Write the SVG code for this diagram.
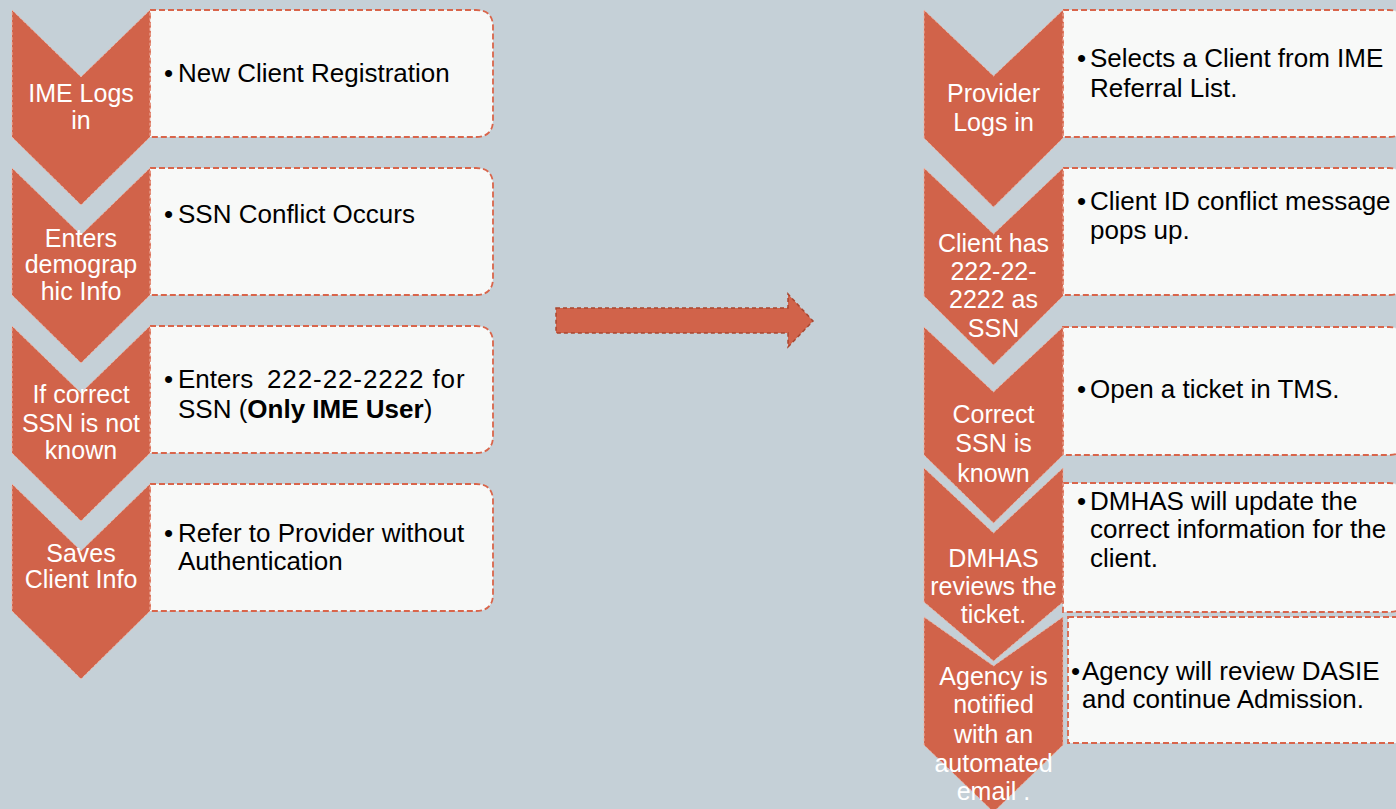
<svg xmlns="http://www.w3.org/2000/svg" width="1396" height="809" viewBox="0 0 1396 809">
<style>
.bg{fill:#C5D0D7}
.box{fill:#F8F9F8;stroke:#D9654B;stroke-width:1.8;stroke-dasharray:6 3}
.chev{fill:#D1634A;stroke:#EFB3A3;stroke-width:1;stroke-dasharray:3 2}
.ct{font-family:"Liberation Sans",Arial,sans-serif;font-size:25px;fill:#FFFFFF;text-anchor:middle}
.bt{font-family:"Liberation Sans",Arial,sans-serif;font-size:26px;fill:#000000}
.arrow{fill:#D1634A;stroke:#A9462F;stroke-width:1.5;stroke-dasharray:4 3}
</style>
<rect class="bg" x="0" y="0" width="1396" height="809"/>

<!-- Left column -->
<g id="left-step1">
<path class="box" d="M150 10 H476 Q493 10 493 27 V120 Q493 137 476 137 H150 Z"/>
<polygon class="chev" points="12,10 81,77 150,10 150,137 81,205 12,137"/>
<text class="ct"><tspan x="81" y="102">IME Logs</tspan><tspan x="81" y="129">in</tspan></text>
<text class="bt"><tspan x="164" y="82">•</tspan><tspan x="178" y="82">New Client Registration</tspan></text>
</g>
<g id="left-step2">
<path class="box" d="M150 168 H476 Q493 168 493 185 V278 Q493 295 476 295 H150 Z"/>
<polygon class="chev" points="12,168 81,235 150,168 150,295 81,363 12,295"/>
<text class="ct"><tspan x="81" y="247">Enters</tspan><tspan x="81" y="273">demograp</tspan><tspan x="81" y="300">hic Info</tspan></text>
<text class="bt"><tspan x="164" y="223">•</tspan><tspan x="178" y="223">SSN Conflict Occurs</tspan></text>
</g>
<g id="left-step3">
<path class="box" d="M150 326 H476 Q493 326 493 343 V436 Q493 453 476 453 H150 Z"/>
<polygon class="chev" points="12,326 81,393 150,326 150,453 81,521 12,453"/>
<text class="ct"><tspan x="81" y="403">If correct</tspan><tspan x="81" y="432">SSN is not</tspan><tspan x="81" y="459">known</tspan></text>
<text class="bt"><tspan x="164" y="388">•</tspan><tspan x="178" y="388">Enters</tspan><tspan x="267" y="388" letter-spacing="0.9">222-22-2222 for</tspan><tspan x="178" y="418">SSN (</tspan><tspan font-weight="bold">Only IME User</tspan><tspan>)</tspan></text>
</g>
<g id="left-step4">
<path class="box" d="M150 484 H476 Q493 484 493 501 V594 Q493 611 476 611 H150 Z"/>
<polygon class="chev" points="12,484 81,551 150,484 150,611 81,679 12,611"/>
<text class="ct"><tspan x="81" y="562">Saves</tspan><tspan x="81" y="588">Client Info</tspan></text>
<text class="bt"><tspan x="164" y="542">•</tspan><tspan x="178" y="542">Refer to Provider without</tspan><tspan x="178" y="570">Authentication</tspan></text>
</g>

<!-- Middle arrow -->
<g id="connectors">
<polygon class="arrow" points="556,308 788,308 788,294 813,321 788,347 788,333 556,333"/>
</g>

<!-- Right column -->
<g id="right-step1">
<path class="box" d="M1063 10 H1389 Q1406 10 1406 27 V120 Q1406 137 1389 137 H1063 Z"/>
<polygon class="chev" points="924,10 993.5,76 1063,10 1063,138 993.5,207 924,138"/>
<text class="ct"><tspan x="993.5" y="102">Provider</tspan><tspan x="993.5" y="131">Logs in</tspan></text>
<text class="bt"><tspan x="1077" y="67">•</tspan><tspan x="1090" y="67">Selects a Client from IME</tspan><tspan x="1090" y="97">Referral List.</tspan></text>
</g>
<g id="right-step2">
<path class="box" d="M1063 168 H1389 Q1406 168 1406 185 V278 Q1406 295 1389 295 H1063 Z"/>
<polygon class="chev" points="924,168 993.5,234 1063,168 1063,296 993.5,365 924,296"/>
<text class="ct"><tspan x="993.5" y="252">Client has</tspan><tspan x="993.5" y="280">222-22-</tspan><tspan x="993.5" y="308">2222 as</tspan><tspan x="993.5" y="337">SSN</tspan></text>
<text class="bt"><tspan x="1077" y="210">•</tspan><tspan x="1090" y="210">Client ID conflict message</tspan><tspan x="1090" y="239">pops up.</tspan></text>
</g>
<g id="right-step3">
<path class="box" d="M1063 327 H1389 Q1406 327 1406 344 V438 Q1406 455 1389 455 H1063 Z"/>
<polygon class="chev" points="924,327 993.5,392 1063,327 1063,455 993.5,523 924,455"/>
<text class="ct"><tspan x="993.5" y="423">Correct</tspan><tspan x="993.5" y="452">SSN is</tspan><tspan x="993.5" y="482">known</tspan></text>
<text class="bt"><tspan x="1077" y="398">•</tspan><tspan x="1090" y="398">Open a ticket in TMS.</tspan></text>
</g>
<g id="right-step4">
<path class="box" d="M1063 483 H1389 Q1406 483 1406 500 V595 Q1406 612 1389 612 H1063 Z"/>
<polygon class="chev" points="924,468 993.5,533 1063,468 1063,602 993.5,661 924,602"/>
<text class="ct"><tspan x="993.5" y="567">DMHAS</tspan><tspan x="993.5" y="595">reviews the</tspan><tspan x="993.5" y="623">ticket.</tspan></text>
<text class="bt"><tspan x="1077" y="510">•</tspan><tspan x="1090" y="510">DMHAS will update the</tspan><tspan x="1090" y="538">correct information for the</tspan><tspan x="1090" y="567">client.</tspan></text>
</g>
<g id="right-step5">
<rect class="box" x="1068" y="617" width="343" height="126"/>
<polygon class="chev" points="924,617 993.5,666 1063,617 1063,745 993.5,812 924,745"/>
<text class="ct"><tspan x="993.5" y="685">Agency is</tspan><tspan x="993.5" y="713">notified</tspan><tspan x="993.5" y="743">with an</tspan><tspan x="993.5" y="772">automated</tspan><tspan x="993.5" y="800">email .</tspan></text>
<text class="bt"><tspan x="1071" y="680">•</tspan><tspan x="1082" y="680">Agency will review DASIE</tspan><tspan x="1082" y="708">and continue Admission.</tspan></text>
</g>
</svg>
